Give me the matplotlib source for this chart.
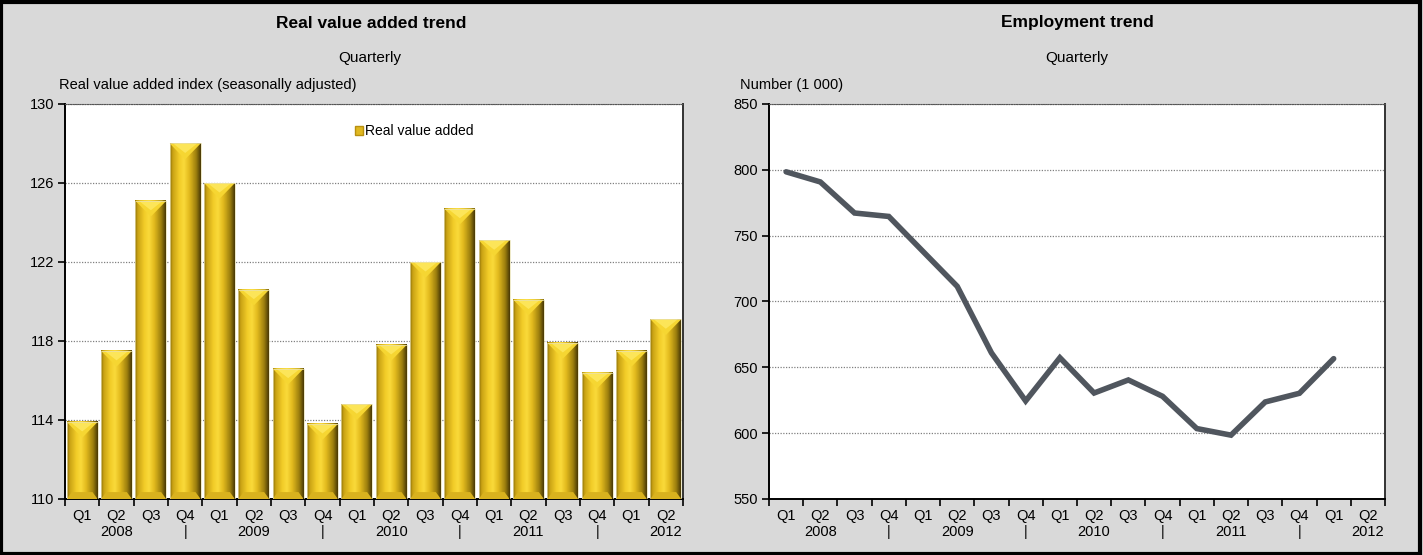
import numpy as np
import matplotlib
matplotlib.use("Agg")
import matplotlib.pyplot as plt
from matplotlib.patches import Polygon, Patch, Rectangle
from matplotlib.colors import LinearSegmentedColormap

plt.rcParams['font.family'] = ['Liberation Sans Narrow', 'Liberation Sans', 'DejaVu Sans']

# ---------------- data ----------------
quarters = ["Q1", "Q2", "Q3", "Q4"] * 4 + ["Q1", "Q2"]
year_row = ["", "2008", "", "|", "", "2009", "", "|", "", "2010", "", "|",
            "", "2011", "", "|", "", "2012"]
value_added = [113.9, 117.5, 125.1, 128.0, 126.0, 120.6, 116.6, 113.8,
               114.8, 117.8, 122.0, 124.7, 123.1, 120.1, 117.9, 116.4,
               117.5, 119.1]
employment = [798.5, 790.8, 767.2, 764.6, 738.0, 711.5, 661.0, 624.5,
              657.3, 630.5, 640.4, 628.0, 603.5, 598.5, 623.7, 630.3,
              656.6, np.nan]
va_ticks = [110, 114, 118, 122, 126, 130]
emp_ticks = [550, 600, 650, 700, 750, 800, 850]

labels = [q + "\n" + y for q, y in zip(quarters, year_row)]

BG = '#D9D9D9'
W, H = 1423, 555
fig = plt.figure(figsize=(W / 100, H / 100), dpi=100, facecolor=BG)

def fx(px):
    return px / W

def fy(py):
    return 1 - py / H

ax1 = fig.add_axes([fx(65), fy(499), fx(683 - 65), (499 - 104) / H])
ax2 = fig.add_axes([fx(769), fy(499), fx(1385 - 769), (499 - 104) / H])

gold = LinearSegmentedColormap.from_list(
    'gold', [(0.0, '#8C7008'), (0.08, '#C9A214'), (0.3, '#F2CC28'),
             (0.45, '#FADA3A'), (0.62, '#E3BB1E'), (0.85, '#9E800E'),
             (1.0, '#4A3A06')])
grad = np.linspace(0, 1, 64).reshape(1, -1)

def style_axes(ax, ticks, n):
    ax.set_facecolor('white')
    ax.set_xlim(-0.5, n - 0.5)
    ax.set_ylim(ticks[0], ticks[-1])
    ax.set_yticks(ticks)
    ax.set_xticks(np.arange(n))
    ax.set_xticklabels(labels, fontsize=10.5, linespacing=1.25)
    ax.set_xticks(np.arange(n + 1) - 0.5, minor=True)
    ax.tick_params(axis='x', which='major', length=0, pad=7)
    ax.tick_params(axis='x', which='minor', length=5, width=1.2, direction='out')
    ax.tick_params(axis='y', length=5, width=1.2, direction='out', labelsize=10.5, pad=3)
    ax.yaxis.grid(True, linestyle=(0, (1, 1.2)), color='#808080', linewidth=0.9)
    ax.set_axisbelow(True)
    ax.spines['left'].set_linewidth(1.4)
    ax.spines['bottom'].set_linewidth(1.4)
    ax.spines['right'].set_color('#333333')
    ax.spines['right'].set_linewidth(1.4)
    ax.spines['top'].set_linestyle((0, (1, 1.2)))
    ax.spines['top'].set_color('#555555')

# ---------------- left chart ----------------
n = len(value_added)
style_axes(ax1, va_ticks, n)
bw = 0.9
base = va_ticks[0]
bevel = 0.8
for i, v in enumerate(value_added):
    x0, x1 = i - bw / 2, i + bw / 2
    ax1.imshow(grad, cmap=gold, extent=(x0, x1, base, v), aspect='auto',
               interpolation='bilinear', zorder=2)
    # top pyramid bevel
    ax1.add_patch(Polygon([(x0, v), (x1, v), (i, v - bevel)], closed=True,
                          facecolor='#F6D632', edgecolor='none', zorder=3))
    ax1.add_patch(Polygon([(x0 + 0.1, v), (x1 - 0.1, v), (i, v - bevel * 0.6)],
                          closed=True, facecolor='#FFEC6A', edgecolor='none', zorder=3, alpha=0.7))
    # bottom bevel
    ax1.add_patch(Polygon([(x0, base), (x1, base), (x1 - 0.15, base + 0.35),
                           (x0 + 0.15, base + 0.35)], closed=True,
                          facecolor='#D9B21E', edgecolor='none', zorder=3))
    ax1.add_patch(Rectangle((x0, base), bw, v - base, facecolor='none',
                            edgecolor='#E8E0B0', linewidth=0.5, zorder=4))
ax1.set_xlim(-0.5, n - 0.5)
ax1.set_ylim(va_ticks[0], va_ticks[-1])

leg = ax1.legend(handles=[Patch(facecolor='#E0B820', edgecolor='#B89010')],
                 labels=['Real value added'], loc='upper center',
                 bbox_to_anchor=(0.565, 0.98), frameon=False, fontsize=10,
                 handlelength=0.6, handleheight=0.6, handletextpad=0.1)

# ---------------- right chart ----------------
style_axes(ax2, emp_ticks, n)
ax2.plot(np.arange(n), employment, color='#50565E', linewidth=4,
         solid_capstyle='round', solid_joinstyle='miter', zorder=3)

# ---------------- texts ----------------
fig.text(fx(371), fy(23), 'Real value added trend', ha='center', va='center',
         fontsize=12.5, fontweight='bold')
fig.text(fx(1077), fy(23), 'Employment trend', ha='center', va='center',
         fontsize=12.5, fontweight='bold')
fig.text(fx(370), fy(58), 'Quarterly', ha='center', va='center', fontsize=11)
fig.text(fx(1077), fy(58), 'Quarterly', ha='center', va='center', fontsize=11)
fig.text(fx(59), fy(85), 'Real value added index (seasonally adjusted)',
         ha='left', va='center', fontsize=10.5)
fig.text(fx(740), fy(85), 'Number (1 000)', ha='left', va='center', fontsize=10.5)

# outer border
fig.patches.append(Rectangle((0.001, 0.002), 0.997, 0.995, transform=fig.transFigure,
                             fill=False, edgecolor='black', linewidth=3))

fig.savefig('out.png', dpi=100, facecolor=BG)
